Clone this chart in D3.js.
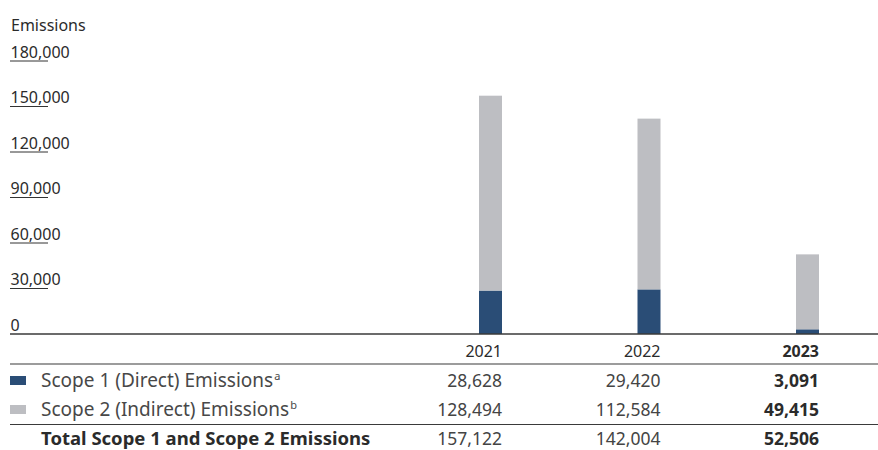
<!DOCTYPE html>
<html><head><meta charset="utf-8">
<script src="https://cdn.jsdelivr.net/npm/d3@7"></script>
<style>
html,body{margin:0;padding:0;background:#fff;}
svg text{font-family:"Noto Sans","Open Sans",sans-serif;fill:#2b2b2b;}
</style></head>
<body><svg id="c" width="878" height="450"></svg>
<script>
const years = ["2021","2022","2023"];
const scope1 = [28628, 29420, 3091];
const scope2 = [128494, 112584, 49415];
const totals = [157122, 142004, 52506];
const yTicks = [0, 30000, 60000, 90000, 120000, 150000, 180000];
const seriesNames = ["Scope 1 (Direct) Emissions", "Scope 2 (Indirect) Emissions"];
const seriesNotes = ["a", "b"];
const totalLabel = "Total Scope 1 and Scope 2 Emissions";
const yTitle = "Emissions";
const colors = ["#2a4d76", "#bdbec2"];

const svg = d3.select("#c");
const fmt = d3.format(",");

const y = d3.scaleLinear().domain([0, 180000]).range([334, 61]);
const x = d3.scaleBand().domain(years).range([343.5, 819]).padding(0);
const barW = 23;
const last = years.length - 1;

// title
svg.append("text").attr("x", 11).attr("y", 31).style("font-size", "16px").text(yTitle);

// y ticks: short underline + label above
const tg = svg.append("g");
yTicks.forEach(t => {
  if (t !== 0) tg.append("line").attr("x1", 10).attr("x2", 48).attr("y1", y(t)).attr("y2", y(t))
    .attr("stroke", "#333").attr("stroke-width", 1);
  tg.append("text").attr("x", 10.5).attr("y", y(t) - 3.5).style("font-size", "16px").text(fmt(t));
});

// stacked bars
const rows = years.map((yr, i) => ({year: yr, s1: scope1[i], s2: scope2[i]}));
const stack = d3.stack().keys(["s1", "s2"])(rows);
svg.append("g").selectAll("g").data(stack).join("g")
  .attr("fill", (d, i) => colors[i])
  .selectAll("rect").data(d => d).join("rect")
  .attr("x", d => x(d.data.year) + x.bandwidth() - barW)
  .attr("width", barW)
  .attr("y", d => y(d[1]))
  .attr("height", d => y(d[0]) - y(d[1]));

// horizontal rules
const rule = (yy, w) => svg.append("line").attr("x1", 10).attr("x2", 878).attr("y1", yy).attr("y2", yy)
  .attr("stroke", "#3a3a3a").attr("stroke-width", w);
rule(334, 1.6);
rule(364, 1.2);
rule(424.5, 1.2);

// table header
years.forEach((yr, i) => {
  svg.append("text").attr("x", x(yr) + x.bandwidth()).attr("y", 357).attr("text-anchor", "end")
    .style("font-size", "16px").style("font-weight", i === last ? "bold" : "normal").text(yr);
});

const valText = (v, i, yy) => svg.append("text").attr("x", x(years[i]) + x.bandwidth()).attr("y", yy)
  .attr("text-anchor", "end").style("font-size", "17.5px")
  .style("font-weight", i === last ? "bold" : "normal")
  .style("fill", i === last ? "#2b2b2b" : "#444").text(fmt(v));

// legend rows
const rowY = [387, 416];
[scope1, scope2].forEach((vals, si) => {
  svg.append("rect").attr("x", 10).attr("y", rowY[si] - 11).attr("width", 16).attr("height", 9).attr("fill", colors[si]);
  const t = svg.append("text").attr("x", 41).attr("y", rowY[si]).style("font-size", "19px").style("fill", "#484848");
  t.append("tspan").text(seriesNames[si]);
  t.append("tspan").attr("dy", -7).attr("dx", 1).style("font-size", "11px").text(seriesNotes[si]);
  vals.forEach((v, i) => valText(v, i, rowY[si]));
});

// total row
svg.append("text").attr("x", 41).attr("y", 445).style("font-size", "18.5px").style("font-weight", "bold").text(totalLabel);
totals.forEach((v, i) => valText(v, i, 445));
</script></body></html>
